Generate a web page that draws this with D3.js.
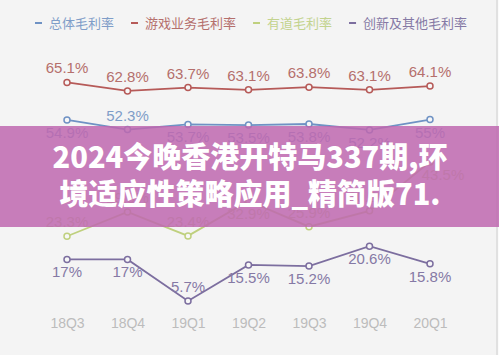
<!DOCTYPE html>
<html><head><meta charset="utf-8">
<script src="https://cdn.jsdelivr.net/npm/d3@7"></script>
<style>
html,body{margin:0;padding:0;background:#f4f4f4;}
svg{display:block;}
</style></head>
<body>
<svg id="c" width="499" height="355"></svg>
<script>
const quarters = ["18Q3","18Q4","19Q1","19Q2","19Q3","19Q4","20Q1"];
const seriesNames = ["总体毛利率","游戏业务毛利率","有道毛利率","创新及其他毛利率"];
const totalMargin = [54.9,52.3,53.7,53.5,53.8,52.2,55];
const gameMargin = [65.1,62.8,63.7,63.1,63.8,63.1,64.1];
const youdaoMargin = [23.3,29.9,23.4,32.9,25.9,30.2,43.5];
const innovMargin = [17,17,5.7,15.5,15.2,20.6,15.8];
const overlayLines = ["2024今晚香港开特马337期,环","境适应性策略应用_精简版71."];

// label placement (a = above, b = below, br = below right)
const totalPlace = ["b","a","b","b","b","b","b"];
const gamePlace = ["a","a","a","a","a","a","a"];
const youdaoPlace = ["a","a","a","b","a","a","br"];
const innovPlace = ["b","b","a","b","b","b","b"];

const series = [
  {name:seriesNames[0], values:totalMargin, place:totalPlace, line:"#6f92c4", text:"#7f9dc8"},
  {name:seriesNames[1], values:gameMargin, place:gamePlace, line:"#b65a58", text:"#b56f6c"},
  {name:seriesNames[2], values:youdaoMargin, place:youdaoPlace, line:"#bfd07e", text:"#c3d38e"},
  {name:seriesNames[3], values:innovMargin, place:innovPlace, line:"#7c6e9f", text:"#8579a5"}
];

const svg = d3.select("#c");
svg.append("rect").attr("width",499).attr("height",355).attr("fill","#f4f4f4");
svg.append("rect").attr("x",496).attr("y",0).attr("width",2).attr("height",355).attr("fill","#e1e1e1");
svg.append("rect").attr("x",498).attr("y",0).attr("width",1).attr("height",355).attr("fill","#fbfbfb");

const x = d3.scalePoint().domain(quarters).range([67,430]);
const y = d3.scaleLinear().domain([0,70]).range([322,64.4]);

// x axis
const ax = svg.append("g").attr("transform","translate(0,318)")
  .call(d3.axisBottom(x).tickSize(0).tickPadding(0));
ax.select(".domain").remove();
ax.selectAll("text").attr("fill","#bcbcbc").style("font-family","'Liberation Sans', Arial, sans-serif").style("font-size","14px");

const line = d3.line().x((d,i)=>x(quarters[i])).y(d=>y(d));

series.forEach(s=>{
  svg.append("path").datum(s.values).attr("d",line).attr("fill","none")
    .attr("stroke",s.line).attr("stroke-width",1.8);
  svg.selectAll(null).data(s.values).enter().append("circle")
    .attr("cx",(d,i)=>x(quarters[i])).attr("cy",d=>y(d)).attr("r",3)
    .attr("fill","#f7f7f7").attr("stroke",s.line).attr("stroke-width",1.5);
  svg.selectAll(null).data(s.values).enter().append("text")
    .attr("x",(d,i)=>x(quarters[i]) + (s.place[i]==="br"?13:0))
    .attr("y",(d,i)=>y(d) + (s.place[i]==="a"?-9:18))
    .attr("text-anchor","middle")
    .attr("fill",s.text)
    .style("font-family","'Liberation Sans', Arial, sans-serif")
    .style("font-size","15px")
    .text(d=>d+"%");
});

// legend
const lg = svg.append("g").attr("transform","translate(35,23)");
let lx = 0;
series.forEach(s=>{
  lg.append("line").attr("x1",lx).attr("x2",lx+7).attr("y1",0).attr("y2",0)
    .attr("stroke",s.line).attr("stroke-width",2);
  const t = lg.append("text").attr("x",lx+14).attr("y",0).attr("dy","0.35em")
    .attr("fill",s.text)
    .style("font-family","'Noto Sans CJK SC', sans-serif").style("font-size","13px")
    .text(s.name);
  lx += 14 + t.node().getComputedTextLength() + 17;
});

// overlay band
svg.append("rect").attr("x",0).attr("y",126).attr("width",499).attr("height",101)
  .attr("fill","rgb(190,103,175)").attr("fill-opacity",0.85);
const ob = svg.append("g");
ob.selectAll("text").data(overlayLines).enter().append("text")
  .attr("x",250).attr("y",(d,i)=>168+i*37)
  .attr("text-anchor","middle").attr("fill","#ffffff")
  .style("font-family","'Noto Sans CJK SC', sans-serif").style("font-weight","900")
  .style("font-size","29px")
  .text(d=>d);
</script>
</body></html>
